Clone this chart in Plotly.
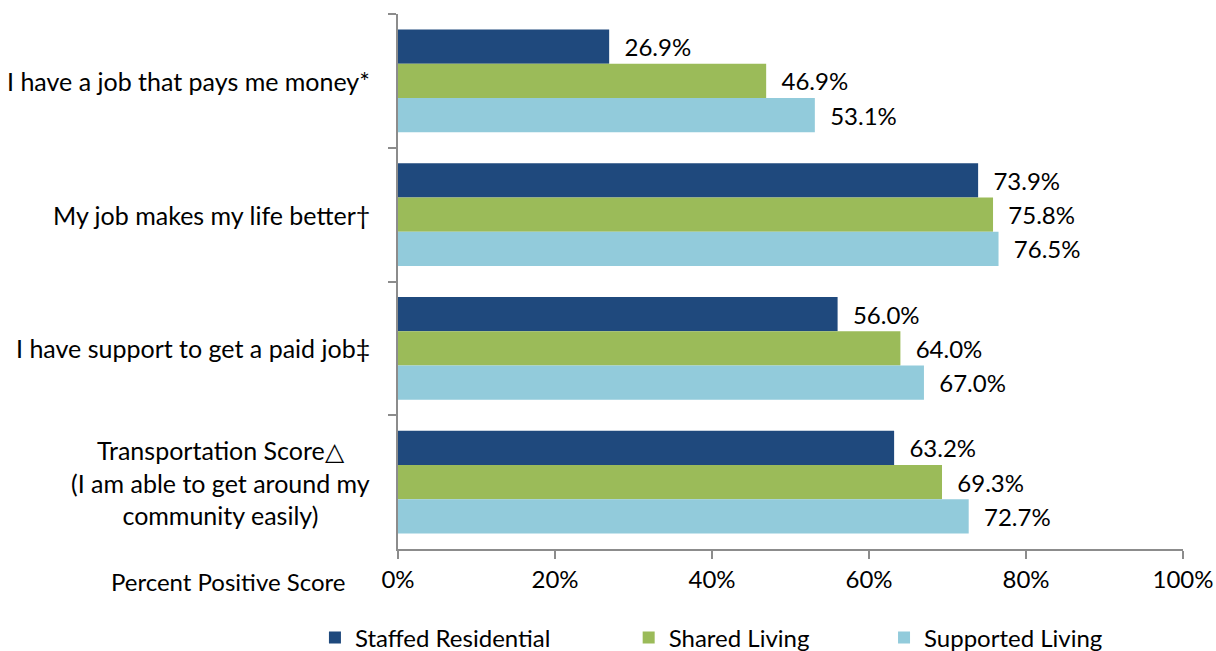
import plotly.graph_objects as go

categories = [
    "I have a job that pays me money*",
    "My job makes my life better\u2020",
    "I have support to get a paid job\u2021",
    "Transportation Score\u25b3<br>(I am able to get around my<br>community easily)",
]
series_names = ["Staffed Residential", "Shared Living", "Supported Living"]
staffed_residential = [26.9, 73.9, 56.0, 63.2]
shared_living = [46.9, 75.8, 64.0, 69.3]
supported_living = [53.1, 76.5, 67.0, 72.7]
x_ticks = [0, 20, 40, 60, 80, 100]
x_tick_labels = ["0%", "20%", "40%", "60%", "80%", "100%"]

colors = ["#1F497D", "#9BBB59", "#92CBDB"]
FONT = "Lato"
series = [staffed_residential, shared_living, supported_living]
legend_names = ["legend", "legend2", "legend3"]

fig = go.Figure()
for name, vals, col, lg in zip(series_names, series, colors, legend_names):
    fig.add_trace(go.Bar(
        y=categories, x=vals, name=name, orientation="h",
        marker=dict(color=col, line=dict(width=0)),
        texttemplate="\u00a0\u00a0%{x:.1f}%", textposition="outside",
        textfont=dict(family=FONT, size=24, color="#000000"),
        cliponaxis=False, legend=lg,
    ))

# category labels, centred per line
for cat in categories:
    fig.add_annotation(
        x=-0.033, y=cat, xref="paper", yref="y", text=cat,
        showarrow=False, xanchor="right", align="center",
        font=dict(family=FONT, size=25, color="#000000"),
    )

fig.add_annotation(
    x=-0.2166, y=-0.06, xref="paper", yref="paper", text="Percent Positive Score",
    showarrow=False, xanchor="center", yanchor="middle",
    font=dict(family=FONT, size=24, color="#000000"),
)

legend_style = dict(orientation="h", yref="container", xref="container",
                    yanchor="middle", y=0.02, xanchor="left",
                    font=dict(family=FONT, size=24, color="#000000"),
                    bgcolor="rgba(0,0,0,0)", itemwidth=30)
fig.update_layout(
    width=1216, height=651,
    margin=dict(l=398, r=33, t=14, b=102),
    paper_bgcolor="white", plot_bgcolor="white",
    barmode="group", bargap=0.23, bargroupgap=0,
    showlegend=True,
    legend=dict(legend_style, x=0.259),
    legend2=dict(legend_style, x=0.517),
    legend3=dict(legend_style, x=0.727),
    xaxis=dict(
        range=[0, 100], tickvals=x_ticks, ticktext=x_tick_labels, automargin=False,
        showgrid=False, zeroline=False, showline=True, linecolor="#8C8C8C", linewidth=1.5,
        ticks="outside", ticklen=8, tickcolor="#8C8C8C", tickwidth=1.5,
        tickfont=dict(family=FONT, size=24, color="#000000"),
    ),
    yaxis=dict(
        autorange="reversed", showticklabels=False, showgrid=False, automargin=False,
        showline=True, linecolor="#8C8C8C", linewidth=1.5,
        ticks="outside", ticklen=8, tickcolor="#8C8C8C", tickwidth=1.5,
        tickson="boundaries",
    ),
)

fig.write_html("out.html")
